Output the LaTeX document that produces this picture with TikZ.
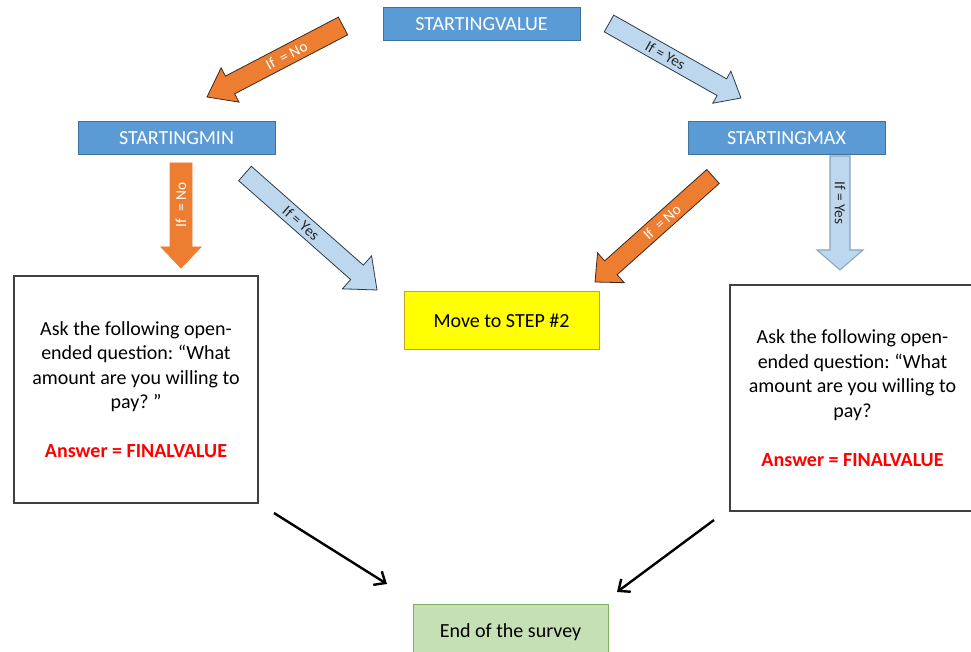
\documentclass[tikz,border=0pt]{standalone}
\usepackage{fontspec}
\setmainfont{Carlito}
\frenchspacing
\usetikzlibrary{calc,arrows.meta}
\definecolor{boxblue}{HTML}{5B9BD5}
\definecolor{boxblueline}{HTML}{41719C}
\definecolor{arrblue}{HTML}{BDD7EE}
\definecolor{arrblueline}{HTML}{2E3B48}
\definecolor{arrblueline2}{HTML}{8AA6C1}
\definecolor{arrorange}{HTML}{ED7D31}
\definecolor{arrorangeline}{HTML}{3A2A1E}
\definecolor{stepyellow}{HTML}{FFFF00}
\definecolor{stepline}{HTML}{C9A227}
\definecolor{endgreen}{HTML}{C5E0B4}
\definecolor{endline}{HTML}{7FB05C}
\definecolor{ansred}{HTML}{FF0000}
\newcommand{\blockarr}[8]{%
  \coordinate (#1h) at ($(#2)!#5!(#1)$);
  \draw[#6] ($(#1)!#3!90:(#2)$) -- ($(#1h)!#3!-90:(#1)$) -- ($(#1h)!#4!-90:(#1)$) -- (#2)
    -- ($(#1h)!#4!90:(#1)$) -- ($(#1h)!#3!90:(#1)$) -- ($(#1)!#3!-90:(#2)$) -- cycle;
  \node[#7] at ($(#1)!0.5!(#1h)$) {#8};
}
\tikzset{
  bluebox/.style={draw=boxblueline, line width=0.75pt, fill=boxblue, text=white, inner sep=0pt,
    minimum width=147.75pt, minimum height=24.75pt, font=\fontsize{15}{18}\selectfont},
  askbox/.style={draw=black!75, line width=1pt, fill=white, inner sep=0pt, align=center,
    minimum width=183pt, minimum height=170.25pt, font=\fontsize{15}{18.4}\selectfont},
  stepbox/.style={draw=stepline, line width=0.75pt, fill=stepyellow, inner sep=0pt,
    minimum width=146.25pt, minimum height=42.75pt, font=\fontsize{15}{18}\selectfont},
  endbox/.style={draw=endline, line width=0.75pt, fill=endgreen, inner sep=0pt,
    minimum width=146.25pt, minimum height=42.75pt, font=\fontsize{15}{18}\selectfont},
  orangearr/.style={fill=arrorange, draw=arrorangeline, line width=0.6pt, line join=miter},
  orangearrflat/.style={fill=arrorange, draw=arrorange, line width=0.6pt},
  bluearr/.style={fill=arrblue, draw=arrblueline, line width=0.6pt, line join=miter},
  bluearrsoft/.style={fill=arrblue, draw=arrblueline2, line width=0.8pt},
  nolabel/.style={text=white, inner sep=0pt, font=\fontsize{11.5}{13}\selectfont},
  yeslabel/.style={text=black!85, inner sep=0pt, font=\fontsize{11.5}{13}\selectfont},
  flowline/.style={line width=1.8pt, -{Straight Barb[length=7pt,width=12pt,line width=1.8pt]}}
}
\begin{document}
\begin{tikzpicture}[x=0.75pt,y=-0.75pt]
\useasboundingbox (0,0) rectangle (971,652);
\fill[white] (0,0) rectangle (971,652);

% boxes
\node[bluebox] (sv) at (481.5,24.5) {STARTINGVALUE};
\node[bluebox] (smin) at (176.5,138.5) {STARTINGMIN};
\node[bluebox] (smax) at (786.5,138.5) {STARTINGMAX};
\node[askbox] (askl) at (136,389.5) {Ask the following open-\\ended question: “What\\amount are you willing to\\pay? ”\\[18.4pt]\textcolor{ansred}{\textbf{Answer = FINALVALUE}}};
\node[askbox, minimum width=183.75pt, minimum height=169.5pt] (askr) at (852.5,398) {Ask the following open-\\ended question: “What\\amount are you willing to\\pay?\\[18.4pt]\textcolor{ansred}{\textbf{Answer = FINALVALUE}}};
\node[stepbox] (step2) at (501.5,320.5) {Move to STEP \#2};
\node[endbox] (fin) at (510.5,632.5) {End of the survey};

% block arrow end points
\coordinate (a1) at (343,26);   \coordinate (b1) at (207,97);
\coordinate (a2) at (609,23.5); \coordinate (b2) at (741,98);
\coordinate (a3) at (181,163);  \coordinate (b3) at (181,268);
\coordinate (a4) at (245,173.5);\coordinate (b4) at (377,290);
\coordinate (a5) at (713,176.5);\coordinate (b5) at (595,282);
\coordinate (a6) at (840,156);  \coordinate (b6) at (840,270);

\blockarr{a1}{b1}{7.5pt}{14.5pt}{19.5pt}{orangearr}{nolabel, rotate=27.6}{If\ \ = No}
\blockarr{a2}{b2}{7.2pt}{13.8pt}{16.5pt}{bluearr}{yeslabel, rotate=-29.6}{If = Yes}
\blockarr{a3}{b3}{8.25pt}{15pt}{15.75pt}{orangearrflat}{nolabel, rotate=90}{If\ \ = No}
\blockarr{a4}{b4}{7.2pt}{16.5pt}{20pt}{bluearr}{yeslabel, rotate=-41.3}{If = Yes}
\blockarr{a5}{b5}{7pt}{15pt}{16pt}{orangearr}{nolabel, rotate=41.9}{If\ \ = No}
\blockarr{a6}{b6}{7.5pt}{17.25pt}{15pt}{bluearrsoft}{yeslabel, rotate=-90}{If = Yes}

% plain arrows to the end
\coordinate (l1) at (274,513); \coordinate (e1) at (387,584);
\coordinate (l2) at (714,520); \coordinate (e2) at (617,592);
\draw[flowline] (l1) -- (e1);
\draw[flowline] (l2) -- (e2);
\end{tikzpicture}
\end{document}
